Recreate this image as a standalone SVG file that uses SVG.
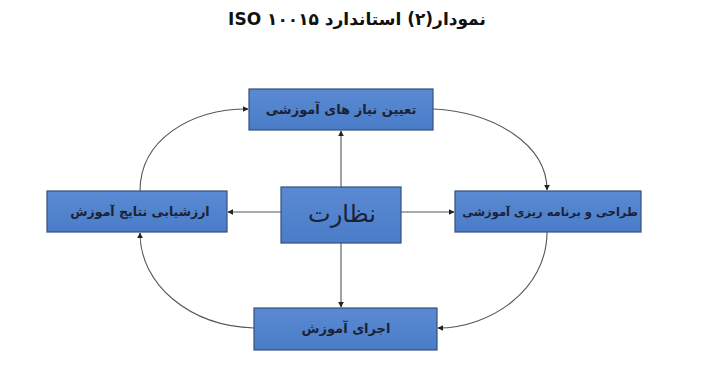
<svg xmlns="http://www.w3.org/2000/svg" width="705" height="366" viewBox="0 0 705 366">
<defs>
<marker id="arr" viewBox="0 0 10 10" refX="9" refY="5" markerWidth="6" markerHeight="6" orient="auto" markerUnits="userSpaceOnUse">
<path d="M0,0 L10,5 L0,10 z" fill="#222"/>
</marker>
<linearGradient id="g" x1="0" y1="0" x2="0" y2="1">
<stop offset="0" stop-color="#5a8ad3"/>
<stop offset="1" stop-color="#4a7cc8"/>
</linearGradient>
</defs>
<style>
.box{fill:url(#g);stroke:#34507a;stroke-width:1.2}
.lbl{font-family:"DejaVu Sans",sans-serif;font-size:13px;font-weight:bold;fill:#1b2233;text-anchor:middle;direction:rtl}
.big{font-family:"DejaVu Sans",sans-serif;font-size:24px;fill:#1b2233;text-anchor:middle;direction:rtl}
.ttl{font-family:"DejaVu Sans",sans-serif;font-size:17px;font-weight:bold;fill:#111;text-anchor:middle;direction:rtl}
.c{fill:none;stroke:#555;stroke-width:1.1}
</style>
<rect width="705" height="366" fill="#fff"/>
<text class="ttl" x="357" y="25">نمودار(۲) استاندارد ۱۰۰۱۵ ISO</text>
<g id="connectors">
<path class="c" d="M341,187 L341,131" marker-end="url(#arr)"/>
<path class="c" d="M281,212 L228,212" marker-end="url(#arr)"/>
<path class="c" d="M401,212 L454,212" marker-end="url(#arr)"/>
<path class="c" d="M341,243 L341,307" marker-end="url(#arr)"/>
<path class="c" d="M140,191 C140,140 190,109 248,109" marker-end="url(#arr)"/>
<path class="c" d="M433,109 C495,112 547,145 547,190" marker-end="url(#arr)"/>
<path class="c" d="M547,232 C547,290 490,328 438,328" marker-end="url(#arr)"/>
<path class="c" d="M254,328 C190,326 140,285 140,233" marker-end="url(#arr)"/>
</g>
<g id="top"><rect class="box" x="249" y="89" width="184" height="41"/><text class="lbl" x="341" y="114">تعیین نیاز های آموزشی</text></g>
<g id="left"><rect class="box" x="47" y="191" width="180" height="41"/><text class="lbl" x="140" y="216" style="font-size:12.5px">ارزشیابی نتایج آموزش</text></g>
<g id="center"><rect class="box" x="281" y="187" width="120" height="56"/><text class="big" x="342" y="222">نظارت</text></g>
<g id="right"><rect class="box" x="455" y="191" width="186" height="41"/><text class="lbl" x="550" y="216" style="font-size:11.5px">طراحی و برنامه ریزی آموزشی</text></g>
<g id="bottom"><rect class="box" x="254" y="308" width="183" height="42"/><text class="lbl" x="346" y="333">اجرای آموزش</text></g>
</svg>
